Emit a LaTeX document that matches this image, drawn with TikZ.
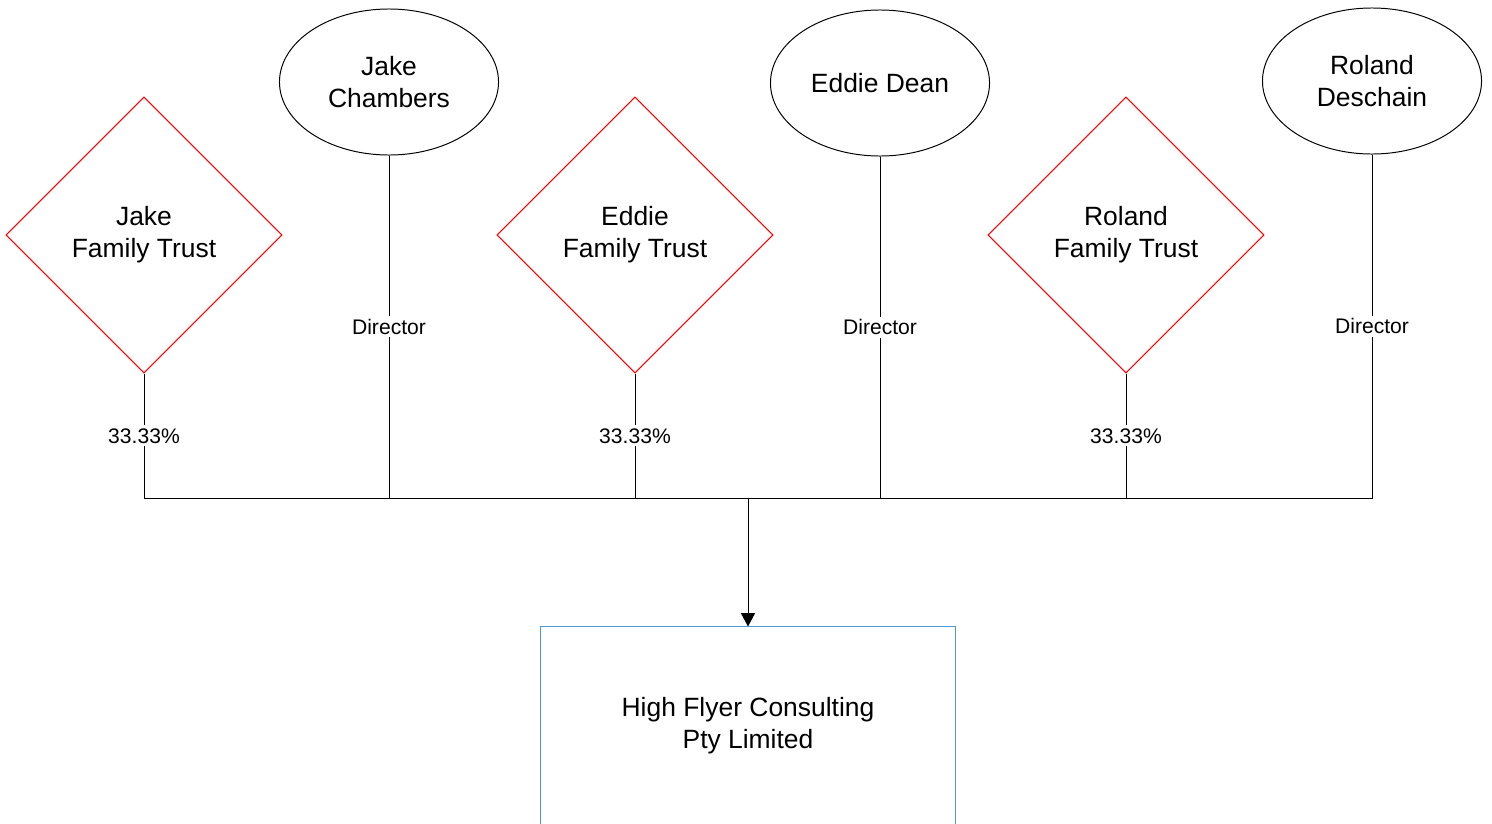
\documentclass[tikz,border=0pt]{standalone}
\usepackage{fontspec}
\setmainfont{Liberation Sans}
\usepackage{tikz}
\usetikzlibrary{shapes.geometric, arrows.meta}

\definecolor{trustred}{RGB}{255,0,0}
\definecolor{coblue}{RGB}{79,152,214}

\begin{document}
\begin{tikzpicture}[x=0.025cm, y=-0.025cm, line width=0.7pt,
    big/.style={font=\fontsize{18.8}{22.7}\selectfont, align=center},
    trust/.style={big, diamond, draw=trustred, minimum width=6.9cm, minimum height=6.9cm, inner sep=0pt},
    person/.style={big, ellipse, draw, minimum width=5.475cm, minimum height=3.65cm, inner sep=0pt},
    company/.style={big, rectangle, draw=coblue, minimum width=10.375cm, minimum height=4.95cm},
    lbl/.style={font=\fontsize{15}{17}\selectfont, fill=white, inner sep=2pt}]
    \useasboundingbox (0,0) rectangle (1492,823);
    \clip (0,0) rectangle (1492,823);

    \node[trust] (jt) at (144,235) {Jake\\Family Trust};
    \node[person] (jc) at (389,82) {Jake\\Chambers};
    \node[trust] (et) at (635,235) {Eddie\\Family Trust};
    \node[person] (ed) at (880,83) {Eddie Dean};
    \node[trust] (rt) at (1126,235) {Roland\\Family Trust};
    \node[person] (rd) at (1372,81) {Roland\\Deschain};

    \node[company] (hfc) at (748,726) {High Flyer Consulting\\Pty Limited};

    \coordinate (bus) at (748,498);

    % shareholders
    \draw (jt.south) -- node[lbl] {33.33\%} (jt.south |- bus) -- (bus);
    \draw (et.south) -- node[lbl] {33.33\%} (et.south |- bus) -- (bus);
    \draw (rt.south) -- node[lbl] {33.33\%} (rt.south |- bus) -- (bus);

    % directors
    \draw (jc.south) -- node[lbl] {Director} (jc.south |- bus) -- (bus);
    \draw (ed.south) -- node[lbl] {Director} (ed.south |- bus) -- (bus);
    \draw (rd.south) -- node[lbl] {Director} (rd.south |- bus) -- (bus);

    \draw[-{Triangle[width=10pt, length=9.5pt]}] (bus) -- (hfc.north);
\end{tikzpicture}
\end{document}
